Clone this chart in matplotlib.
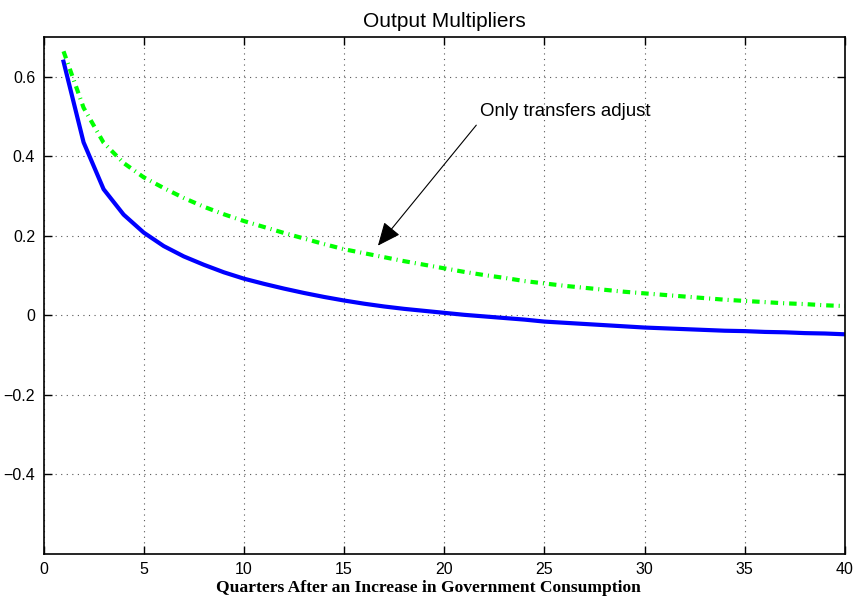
import numpy as np
import matplotlib
matplotlib.use("Agg")
import matplotlib.pyplot as plt

plt.rcParams['font.family'] = ['Liberation Sans', 'DejaVu Sans']

quarters = np.arange(1, 41)
# at integer quarters
both_adjust = [0.638, 0.435, 0.317, 0.253, 0.208, 0.174, 0.148, 0.127, 0.108, 0.092,
               0.079, 0.067, 0.056, 0.046, 0.037, 0.029, 0.022, 0.016, 0.011, 0.006,
               0.001, -0.003, -0.007, -0.011, -0.016, -0.019, -0.022, -0.025, -0.028, -0.031,
               -0.033, -0.035, -0.037, -0.039, -0.040, -0.042, -0.043, -0.045, -0.046, -0.048]
transfers_adjust = [0.664, 0.522, 0.434, 0.383, 0.347, 0.320, 0.295, 0.273, 0.254, 0.237,
                    0.222, 0.207, 0.193, 0.179, 0.166, 0.156, 0.146, 0.136, 0.127, 0.118,
                    0.109, 0.101, 0.094, 0.086, 0.080, 0.074, 0.069, 0.064, 0.059, 0.055,
                    0.051, 0.047, 0.043, 0.039, 0.036, 0.033, 0.030, 0.028, 0.025, 0.023]
xticks = [0, 5, 10, 15, 20, 25, 30, 35, 40]
yticks = [-0.4, -0.2, 0, 0.2, 0.4, 0.6]
ytick_labels = ['\u22120.4', '\u22120.2', '0', '0.2', '0.4', '0.6']

fig = plt.figure(figsize=(8.56, 6), dpi=100)
ax = fig.add_axes([43.5 / 856, 1 - 553.7 / 600, (845 - 43.5) / 856, (553.7 - 37) / 600])

ax.plot(quarters, both_adjust, color='#0000ff', lw=3)
ax.plot(quarters, transfers_adjust, color='#00ff00', lw=3,
        linestyle=(0, (1.8, 1.2, 0.25, 1.2)))

ax.set_xlim(0, 40)
ax.set_ylim(-0.6, 0.7)
ax.set_xticks(xticks)
ax.set_yticks(yticks)
ax.set_yticklabels(ytick_labels)
ax.tick_params(direction='in', length=6, width=1, top=True, right=True,
               labelsize=11.5, pad=6)
for s in ax.spines.values():
    s.set_linewidth(1.2)
ax.grid(True, linestyle=(0, (1, 4)), color='#555555', linewidth=0.8)

ax.set_title('Output Multipliers', fontsize=15, pad=7)
ax.set_xlabel('Quarters After an Increase in Government Consumption',
              family=['Liberation Serif'], fontweight='bold', fontsize=12.6)
ax.xaxis.set_label_coords(0.48, -0.066)
ax.xaxis.label.set_va('center')

ax.annotate('Only transfers adjust', xy=(16.69, 0.175), xytext=(21.8, 0.512),
            fontsize=13.4, va='center', ha='left',
            arrowprops=dict(arrowstyle='-|>,head_length=0.8,head_width=0.35',
                            color='black', lw=0.8, mutation_scale=18,
                            shrinkA=2, shrinkB=0, relpos=(0.0, 0.0)))

fig.savefig('out.png', dpi=100)
